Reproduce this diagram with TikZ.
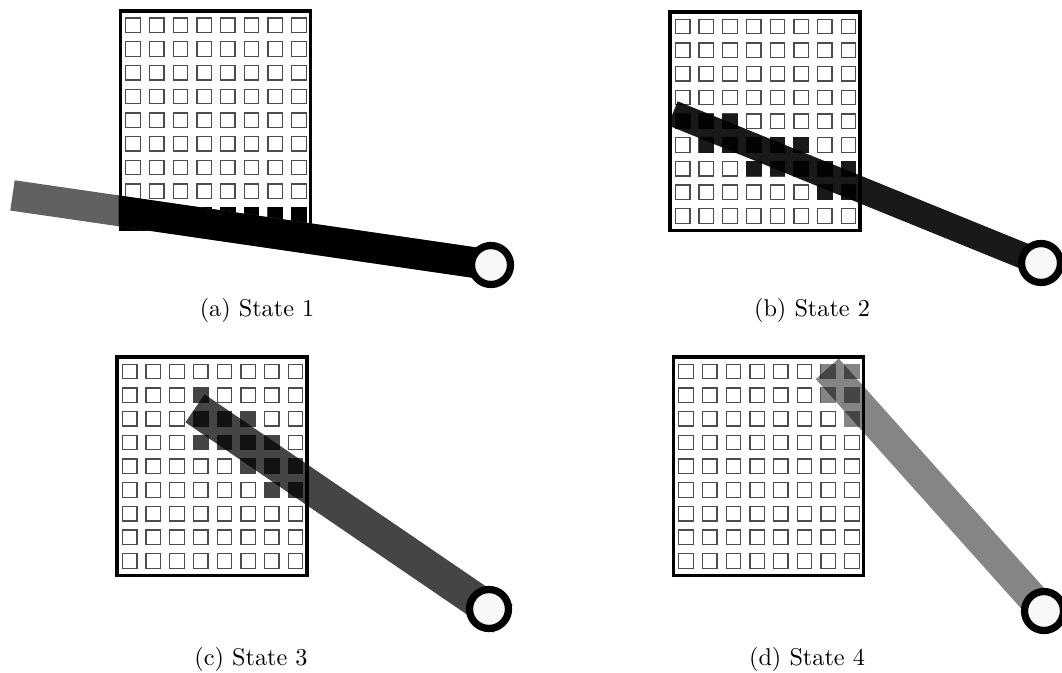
\documentclass[tikz,border=0pt]{standalone}
\tikzset{
  panel/.style={draw=black,line width=1.5pt,fill=white},
  cellbox/.style={draw=black!70,line width=0.55pt},
  armbar/.style={line width=#1,line cap=butt},
  armbar/.default=12.6pt,
  pivot/.style={circle,draw=black,line width=3pt,fill=black!3,minimum size=0.565cm,inner sep=0pt},
  caption/.style={anchor=base,font=\normalsize}
}
\begin{document}
\begin{tikzpicture}[x=0.0145cm,y=-0.0145cm]
  \useasboundingbox (0,0) rectangle (1062,672);

  % frames and empty grids
  \foreach \fx/\fy in {118.5/9.1, 668.1/10.2, 115.1/355.2, 671.5/355.2}{
    \begin{scope}[shift={(\fx,\fy)}]
      \draw[panel] (1.85,1.85) rectangle (192.15,220.15);
      \foreach \i in {0,...,7}
        \foreach \j in {0,...,8}
          \draw[cellbox] ({7.3+23.7*\i},{9+23.7*\j}) rectangle ++(14.5,14.5);
    \end{scope}
  }

  % state 1
  \begin{scope}[shift={(118.5,9.1)}]
    \foreach \c in {1,...,8}
      \fill[black] ({6.8+23.7*(\c-1)},{8.5+23.7*8}) rectangle ++(15.5,15.5);
  \end{scope}
  \coordinate (endA) at (12.5,195.4);
  \coordinate (hubA) at (491,265);
  \draw[armbar=12.6pt,black!62] (endA) -- (hubA);
  \begin{scope}
    \clip (118.5,0) rectangle (531,340);
    \draw[armbar=12.6pt,black] (endA) -- (hubA);
  \end{scope}
  \node[pivot] (pivA) at (hubA) {};
  \node[caption] (capA) at (257,316) {(a) State 1};

  % state 2
  \begin{scope}[shift={(668.1,10.2)}]
    \foreach \c/\r in {1/5,2/5,3/5,2/6,3/6,4/6,5/6,6/6,4/7,5/7,6/7,7/7,8/7,7/8,8/8}
      \fill[black!90] ({6.8+23.7*(\c-1)},{8.5+23.7*(\r-1)}) rectangle ++(15.5,15.5);
  \end{scope}
  \coordinate (endB) at (672.8,113.3);
  \coordinate (hubB) at (1041,263);
  \draw[armbar=10.7pt,black,draw opacity=0.9] (endB) -- (hubB);
  \node[pivot] (pivB) at (hubB) {};
  \node[caption] (capB) at (812,316) {(b) State 2};

  % state 3
  \begin{scope}[shift={(115.1,355.2)}]
    \foreach \c/\r in {4/2,4/3,5/3,6/3,4/4,5/4,6/4,7/4,6/5,7/5,8/5,7/6,8/6}
      \fill[black!73] ({6.8+23.7*(\c-1)},{8.5+23.7*(\r-1)}) rectangle ++(15.5,15.5);
  \end{scope}
  \coordinate (endC) at (195,408.3);
  \coordinate (hubC) at (489,609);
  \draw[armbar=14pt,black,draw opacity=0.73,shorten >=-7pt] (endC) -- (hubC);
  \node[pivot] (pivC) at (hubC) {};
  \node[caption] (capC) at (251,665) {(c) State 3};

  % state 4
  \begin{scope}[shift={(671.5,355.2)}]
    \foreach \c/\r in {7/1,8/1,7/2,8/2,8/3}
      \fill[black!48] ({6.8+23.7*(\c-1)},{8.5+23.7*(\r-1)}) rectangle ++(15.5,15.5);
  \end{scope}
  \coordinate (endD) at (827.2,368.8);
  \coordinate (hubD) at (1044,611);
  \draw[armbar=12.7pt,black,draw opacity=0.48] (endD) -- (hubD);
  \node[pivot] (pivD) at (hubD) {};
  \node[caption] (capD) at (807,665) {(d) State 4};
\end{tikzpicture}
\end{document}
